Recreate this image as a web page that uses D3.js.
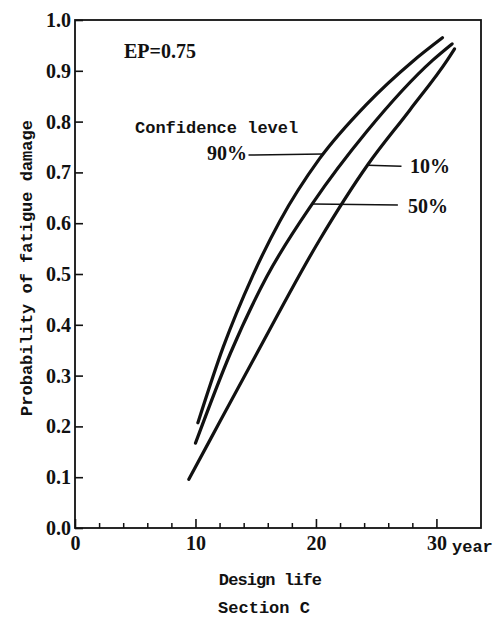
<!DOCTYPE html>
<html lang="en">
<head>
    <meta charset="UTF-8"/>
    <title>Section C</title>
    <script src="https://d3js.org/d3.v7.min.js"></script>
    <style>
        body { margin: 0; background: #fff; }
        .num { font-family: "Liberation Serif", serif; font-size: 20px; font-weight: bold; fill: #111; }
        .mono { font-family: "Liberation Mono", monospace; font-size: 17px; font-weight: bold; fill: #111; }
    </style>
</head>
<body>
    <script>
        // values: design life (year) vs probability of fatigue damage
        var years90 = [10.2, 12.3, 14.7, 17.0, 20.3, 24.2, 28.0, 30.5];
        var prob90 = [0.207, 0.356, 0.494, 0.604, 0.727, 0.834, 0.918, 0.965];

        var years50 = [10.0, 12.9, 15.9, 19.75, 24.2, 29.7, 31.3];
        var prob50 = [0.167, 0.344, 0.494, 0.640, 0.780, 0.921, 0.953];

        var years10 = [9.45, 11.2, 15.1, 20.3, 24.3, 27.8, 30.9, 31.5];
        var prob10 = [0.096, 0.173, 0.344, 0.567, 0.715, 0.823, 0.921, 0.943];

        var yTicks = [0, 0.1, 0.2, 0.3, 0.4, 0.5, 0.6, 0.7, 0.8, 0.9, 1.0];
        var xMajor = [0, 10, 20, 30];
        var xMinor = [2, 4, 6, 8, 12, 14, 16, 18, 22, 24, 26, 28];

        var w = 500;
        var h = 625;

        var xScale = d3.scaleLinear()
            .domain([0, 33.7])
            .range([75, 481]);

        var yScale = d3.scaleLinear()
            .domain([0, 1])
            .range([528, 20]);

        var svg = d3.select("body")
            .append("svg")
            .attr("width", w)
            .attr("height", h);

        // frame
        svg.append("rect")
            .attr("x", xScale(0))
            .attr("y", yScale(1))
            .attr("width", xScale(33.7) - xScale(0))
            .attr("height", yScale(0) - yScale(1))
            .attr("fill", "none")
            .attr("stroke", "#111")
            .attr("stroke-width", 1.8);

        // y axis, ticks point inward
        var yAxis = svg.append("g")
            .attr("transform", "translate(" + xScale(0) + ",0)")
            .call(d3.axisLeft(yScale)
                .tickValues(yTicks)
                .tickSize(-8)
                .tickPadding(4)
                .tickFormat(d3.format(".1f")));
        yAxis.select(".domain").remove();
        yAxis.selectAll("line").attr("stroke", "#111").attr("stroke-width", 1.6);
        yAxis.selectAll("text").attr("class", "num").attr("font-size", null).attr("font-family", null);

        // x axis minor ticks
        var xMinorAxis = svg.append("g")
            .attr("transform", "translate(0," + yScale(0) + ")")
            .call(d3.axisBottom(xScale)
                .tickValues(xMinor)
                .tickSize(-5)
                .tickFormat(""));
        xMinorAxis.select(".domain").remove();
        xMinorAxis.selectAll("line").attr("stroke", "#111").attr("stroke-width", 1.5);

        // x axis major ticks + labels
        var xAxis = svg.append("g")
            .attr("transform", "translate(0," + yScale(0) + ")")
            .call(d3.axisBottom(xScale)
                .tickValues(xMajor)
                .tickSize(-9)
                .tickPadding(8));
        xAxis.select(".domain").remove();
        xAxis.selectAll("line").attr("stroke", "#111").attr("stroke-width", 1.6);
        xAxis.selectAll("text").attr("class", "num").attr("font-size", null).attr("font-family", null);

        svg.append("text")
            .attr("class", "mono")
            .attr("x", 452)
            .attr("y", 552)
            .text("year");

        // axis titles
        svg.append("text")
            .attr("class", "mono")
            .attr("font-size", "18px")
            .attr("text-anchor", "middle")
            .attr("transform", "translate(32,268) rotate(-90)")
            .text("Probability of fatigue damage");

        svg.append("text")
            .attr("class", "mono")
            .attr("text-anchor", "middle")
            .attr("letter-spacing", "-0.9px")
            .attr("x", 270)
            .attr("y", 585)
            .text("Design life");

        svg.append("text")
            .attr("class", "mono")
            .attr("text-anchor", "middle")
            .attr("x", 264)
            .attr("y", 613)
            .text("Section C");

        // curves
        var curves = [
            { name: "90%", years: years90, prob: prob90 },
            { name: "50%", years: years50, prob: prob50 },
            { name: "10%", years: years10, prob: prob10 }
        ];

        var line = d3.line()
            .x(function(d) { return xScale(d[0]); })
            .y(function(d) { return yScale(d[1]); })
            .curve(d3.curveMonotoneX);

        svg.selectAll(".curve")
            .data(curves)
            .enter()
            .append("path")
            .attr("class", "curve")
            .attr("d", function(c) {
                return line(c.years.map(function(y, i) { return [y, c.prob[i]]; }));
            })
            .attr("fill", "none")
            .attr("stroke", "#111")
            .attr("stroke-width", 3.2)
            .attr("stroke-linecap", "round");

        // annotations
        svg.append("text")
            .attr("class", "num")
            .attr("font-weight", "normal")
            .attr("x", 124)
            .attr("y", 58)
            .text("EP=0.75");

        svg.append("text")
            .attr("class", "mono")
            .attr("x", 135)
            .attr("y", 133)
            .text("Confidence level");

        // leader lines: label end year, curve year, prob at curve
        var leaders = [
            { label: "90%", from: 14.4, to: 20.6, p: 0.736, tx: 207, dy: 6 },
            { label: "10%", from: 27.1, to: 24.3, p: 0.714, tx: 410, dy: 8 },
            { label: "50%", from: 26.8, to: 19.75, p: 0.638, tx: 408, dy: 9 }
        ];

        svg.selectAll(".leader")
            .data(leaders)
            .enter()
            .append("line")
            .attr("class", "leader")
            .attr("x1", function(d) { return xScale(d.from); })
            .attr("x2", function(d) { return xScale(d.to); })
            .attr("y1", function(d) { return yScale(d.p) + 1; })
            .attr("y2", function(d) { return yScale(d.p); })
            .attr("stroke", "#111")
            .attr("stroke-width", 1.5);

        svg.selectAll(".pct")
            .data(leaders)
            .enter()
            .append("text")
            .attr("class", "num pct")
            .attr("font-weight", "normal")
            .attr("x", function(d) { return d.tx; })
            .attr("y", function(d) { return yScale(d.p) + d.dy; })
            .text(function(d) { return d.label; });
    </script>
</body>
</html>
